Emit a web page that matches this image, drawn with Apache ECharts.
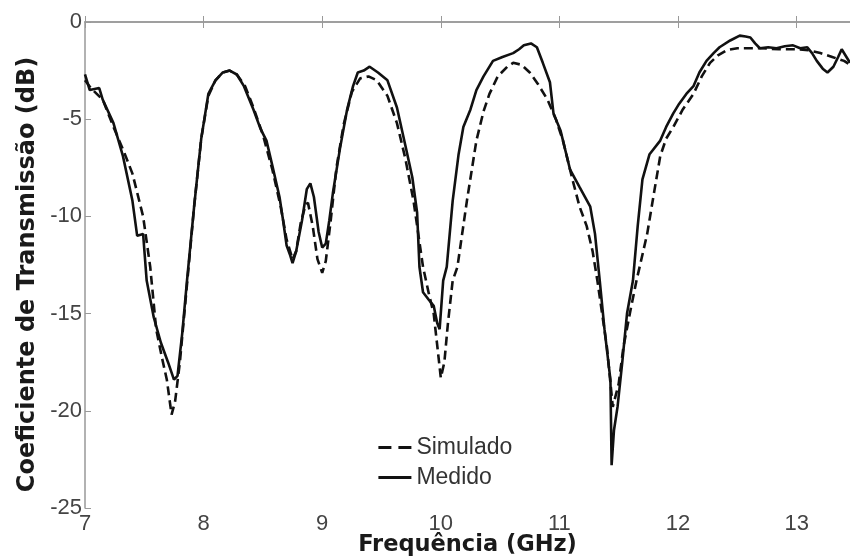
<!DOCTYPE html>
<html>
<head>
<meta charset="utf-8">
<script src="https://cdn.jsdelivr.net/npm/echarts@6/dist/echarts.min.js"></script>
<style>html,body{margin:0;padding:0;background:#fff}#c{width:850px;height:558px}</style>
</head>
<body>
<div id="c"></div>
<script>
var xTicks = [7, 8, 9, 10, 11, 12, 13];
var yTicks = [0, -5, -10, -15, -20, -25];
var seriesNames = ['Simulado', 'Medido'];

var freqMed = [7.00,7.04,7.12,7.15,7.24,7.32,7.40,7.44,7.49,7.52,7.58,7.64,7.70,7.75,7.78,7.82,7.86,7.92,7.98,8.04,8.10,8.16,8.22,8.28,8.34,8.42,8.48,8.53,8.58,8.64,8.67,8.70,8.73,8.75,8.78,8.83,8.87,8.90,8.93,8.97,9.00,9.03,9.06,9.09,9.15,9.21,9.26,9.30,9.35,9.40,9.47,9.55,9.63,9.71,9.76,9.80,9.82,9.85,9.90,9.94,9.97,9.99,10.02,10.05,10.10,10.15,10.19,10.25,10.30,10.36,10.44,10.52,10.61,10.66,10.70,10.76,10.81,10.86,10.92,10.95,11.01,11.09,11.17,11.26,11.30,11.34,11.38,11.43,11.44,11.46,11.49,11.53,11.57,11.62,11.66,11.70,11.76,11.85,11.90,11.96,12.01,12.07,12.13,12.18,12.24,12.30,12.35,12.44,12.52,12.57,12.61,12.65,12.69,12.76,12.83,12.90,12.97,13.03,13.09,13.13,13.17,13.22,13.26,13.31,13.35,13.38,13.42,13.45];
var medido = [-2.7,-3.5,-3.4,-4.0,-5.2,-6.9,-9.2,-11.0,-10.9,-13.3,-15.2,-16.5,-17.5,-18.4,-18.2,-16.0,-13.3,-9.5,-6.0,-3.7,-3.0,-2.6,-2.5,-2.7,-3.3,-4.5,-5.5,-6.1,-7.4,-9.0,-10.2,-11.5,-12.0,-12.4,-11.8,-10.2,-8.6,-8.3,-9.0,-10.8,-11.6,-11.4,-10.2,-8.8,-6.5,-4.5,-3.3,-2.6,-2.5,-2.3,-2.6,-3.0,-4.4,-6.6,-8.0,-9.8,-12.6,-13.9,-14.3,-14.6,-15.5,-15.8,-13.3,-12.6,-9.2,-6.8,-5.4,-4.5,-3.5,-2.8,-2.0,-1.8,-1.6,-1.4,-1.2,-1.1,-1.3,-2.1,-3.1,-4.7,-5.6,-7.6,-8.5,-9.5,-10.9,-13.3,-15.8,-18.4,-22.8,-21.0,-19.8,-17.5,-15.0,-13.3,-10.5,-8.1,-6.8,-6.1,-5.4,-4.7,-4.2,-3.7,-3.3,-2.6,-2.0,-1.6,-1.3,-0.95,-0.7,-0.75,-0.8,-1.1,-1.35,-1.3,-1.35,-1.25,-1.2,-1.35,-1.3,-1.6,-2.0,-2.4,-2.6,-2.3,-1.8,-1.4,-1.8,-2.1];

var freqSim = [7.00,7.05,7.15,7.24,7.33,7.40,7.49,7.55,7.60,7.65,7.69,7.73,7.76,7.80,7.86,7.92,7.98,8.04,8.10,8.16,8.22,8.28,8.35,8.42,8.50,8.58,8.65,8.70,8.75,8.78,8.82,8.86,8.88,8.92,8.96,9.00,9.03,9.07,9.12,9.18,9.25,9.32,9.39,9.46,9.55,9.63,9.70,9.77,9.85,9.90,9.94,9.98,10.00,10.03,10.06,10.10,10.14,10.22,10.30,10.36,10.41,10.48,10.56,10.61,10.68,10.75,10.82,10.90,10.97,11.03,11.11,11.17,11.23,11.28,11.32,11.36,11.40,11.45,11.50,11.54,11.60,11.65,11.74,11.80,11.85,11.90,11.96,12.04,12.13,12.20,12.27,12.34,12.41,12.50,12.58,12.70,12.85,13.00,13.10,13.20,13.30,13.40,13.45];
var simulado = [-3.0,-3.4,-4.0,-5.4,-6.7,-7.8,-10.0,-12.6,-15.8,-17.3,-18.4,-20.2,-19.5,-17.5,-13.5,-9.5,-6.0,-3.8,-3.0,-2.6,-2.5,-2.7,-3.3,-4.4,-5.8,-7.6,-9.5,-11.2,-12.2,-11.8,-10.3,-9.4,-9.3,-10.5,-12.2,-12.9,-12.3,-10.3,-7.5,-5.3,-3.6,-2.9,-2.8,-3.0,-3.8,-5.2,-7.0,-9.2,-12.6,-14.0,-15.0,-17.2,-18.3,-17.5,-15.5,-13.3,-12.6,-9.2,-6.1,-4.6,-3.7,-2.8,-2.3,-2.1,-2.2,-2.6,-3.2,-4.0,-5.0,-6.1,-8.1,-9.5,-10.5,-11.8,-13.3,-15.0,-16.7,-19.8,-18.6,-16.7,-14.8,-13.3,-10.9,-8.7,-6.9,-6.0,-5.4,-4.5,-3.7,-2.8,-2.1,-1.7,-1.45,-1.35,-1.35,-1.35,-1.4,-1.4,-1.45,-1.6,-1.8,-2.0,-2.2];

function pairs(xs, ys) { return xs.map(function (x, i) { return [x, ys[i]]; }); }

var chart = echarts.init(document.getElementById('c'), null, {renderer: 'canvas'});
var font = 'Liberation Sans, Arial, sans-serif';
var titleFont = 'DejaVu Sans, Liberation Sans, sans-serif';
var axisCol = '#999';
var labelCol = '#444';
chart.setOption({
  animation: false,
  backgroundColor: '#fff',
  grid: {left: 85, right: 0, top: 22, bottom: 50, containLabel: false, outerBoundsMode: 'none'},
  legend: {
    orient: 'vertical', left: 372, top: 431, itemWidth: 33, itemHeight: 14, itemGap: 7,
    itemStyle: {opacity: 0},
    textStyle: {fontFamily: font, fontSize: 23, lineHeight: 23, color: '#333', padding: [0, 0, 0, 0]},
    data: [
      {name: seriesNames[0], lineStyle: {type: [13, 7], width: 2.8}},
      {name: seriesNames[1], lineStyle: {width: 2.8}}
    ]
  },
  xAxis: [{
    type: 'value', min: 7, max: 13.45, interval: 1,
    name: 'Frequência (GHz)', nameLocation: 'middle', nameGap: 26, nameMoveOverlap: false,
    nameTextStyle: {fontFamily: titleFont, fontSize: 22.5, fontWeight: 'bold', color: '#1a1a1a'},
    axisLine: {show: true, lineStyle: {color: axisCol, width: 1.5}},
    axisTick: {show: true, inside: true, length: 6, lineStyle: {color: axisCol}},
    axisLabel: {fontFamily: font, fontSize: 22, color: labelCol, margin: 5,
      formatter: function (v) { return xTicks.indexOf(v) >= 0 ? String(v) : ''; }},
    splitLine: {show: false}
  }, {
    type: 'value', position: 'top', min: 7, max: 13.45, interval: 1,
    axisLine: {show: true, lineStyle: {color: axisCol, width: 1.5}},
    axisTick: {show: true, inside: true, length: 6, lineStyle: {color: axisCol}},
    axisLabel: {show: false}, splitLine: {show: false}
  }],
  yAxis: {
    type: 'value', min: -25, max: 0, interval: 5,
    name: 'Coeficiente de Transmissão (dB)', nameLocation: 'middle', nameGap: 45, nameMoveOverlap: false,
    nameTextStyle: {fontFamily: titleFont, fontSize: 24, fontWeight: 'bold', color: '#1a1a1a', padding: [0, 19, 0, 0]},
    axisLine: {show: true, lineStyle: {color: axisCol, width: 1.5}},
    axisTick: {show: true, inside: true, length: 6, lineStyle: {color: axisCol}},
    axisLabel: {fontFamily: font, fontSize: 22, color: labelCol, margin: 3,
      formatter: function (v) { return yTicks.indexOf(v) >= 0 ? String(v) : ''; }},
    splitLine: {show: false}
  },
  series: [{
    name: seriesNames[0], type: 'line', symbol: 'none', showSymbol: false,
    data: pairs(freqSim, simulado),
    lineStyle: {color: '#111', width: 2.6, type: [9, 5]},
    itemStyle: {color: '#111'}, z: 2
  }, {
    name: seriesNames[1], type: 'line', symbol: 'none', showSymbol: false,
    data: pairs(freqMed, medido),
    lineStyle: {color: '#111', width: 2.6, type: 'solid'},
    itemStyle: {color: '#111'}, z: 3
  }]
});
</script>
</body>
</html>
